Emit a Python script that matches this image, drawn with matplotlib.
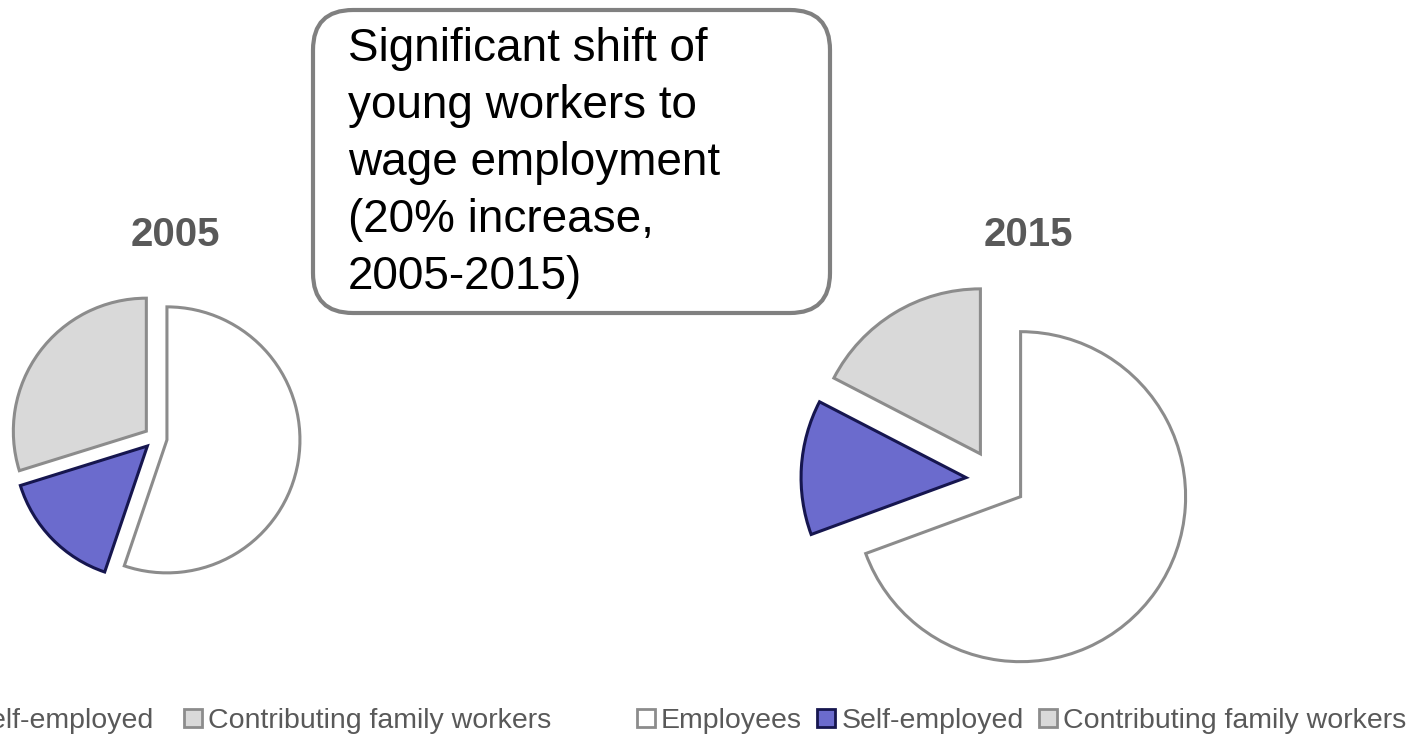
import matplotlib
matplotlib.use("Agg")
import matplotlib.pyplot as plt
from matplotlib.lines import Line2D
from matplotlib.patches import FancyBboxPatch

plt.rcParams['font.family'] = ['Liberation Sans', 'DejaVu Sans']

# --- data ---
categories = ["Employees", "Self-employed", "Contributing family workers"]
shares_2005 = [55.2, 15.0, 29.8]
shares_2015 = [69.4, 13.2, 17.4]
years = ["2005", "2015"]
note = "Significant shift of\nyoung workers to\nwage employment\n(20% increase,\n2005-2015)"

# --- styles ---
fills = ["#ffffff", "#6b6bcd", "#d9d9d9"]
edges = ["#8c8c8c", "#16164f", "#8c8c8c"]
text_grey = "#595959"

W, H = 1418, 735
fig = plt.figure(figsize=(W / 100, H / 100), dpi=100)
ax = fig.add_axes([0, 0, 1, 1])


def draw_pie(values, center, radius, gap):
    # explode is given in data units (pixels here)
    wedges, _ = ax.pie(values, colors=fills, startangle=90, counterclock=False,
                       center=center, radius=radius,
                       explode=[gap] * len(values),
                       wedgeprops=dict(linewidth=2.2))
    for w, ec in zip(wedges, edges):
        w.set_edgecolor(ec)
        w.set_joinstyle("miter")
    return wedges


# pixel-style coordinates, y measured upward
draw_pie(shares_2005, center=(155.6, H - 438), radius=133, gap=11.5)
draw_pie(shares_2015, center=(996, H - 479.5), radius=165, gap=30)

ax.text(175, H - 235, years[0], ha="center", va="center", fontsize=29,
        fontweight="bold", color=text_grey)
ax.text(1028, H - 235, years[1], ha="center", va="center", fontsize=29,
        fontweight="bold", color=text_grey)

# callout box
box = FancyBboxPatch((313, H - 313), 517, 303,
                     boxstyle="round,pad=0,rounding_size=40",
                     facecolor="white", edgecolor="#808080", linewidth=3)
ax.add_patch(box)
ax.text(348, H - 27, note, ha="left", va="top", fontsize=33,
        color="black", linespacing=1.38)

# legends
handles = [Line2D([], [], marker="s", linestyle="none", markersize=13,
                  markerfacecolor=fc, markeredgecolor=ec, markeredgewidth=2)
           for fc, ec in zip(fills, edges)]

leg_kw = dict(ncol=3, loc="center right", bbox_transform=ax.transData,
              frameon=False, fontsize=20.5, labelcolor=text_grey,
              handlelength=0.7, handletextpad=0.18,
              borderpad=0, borderaxespad=0)
leg_left = ax.legend(handles, categories, bbox_to_anchor=(551, 14),
                     columnspacing=1.0, **leg_kw)
ax.add_artist(leg_left)
ax.legend(handles, categories, bbox_to_anchor=(1406, 14),
          columnspacing=0.5, **leg_kw)

ax.set_xlim(0, W)
ax.set_ylim(0, H)
ax.set_aspect("auto")
ax.axis("off")

fig.savefig("out.png", dpi=100)
